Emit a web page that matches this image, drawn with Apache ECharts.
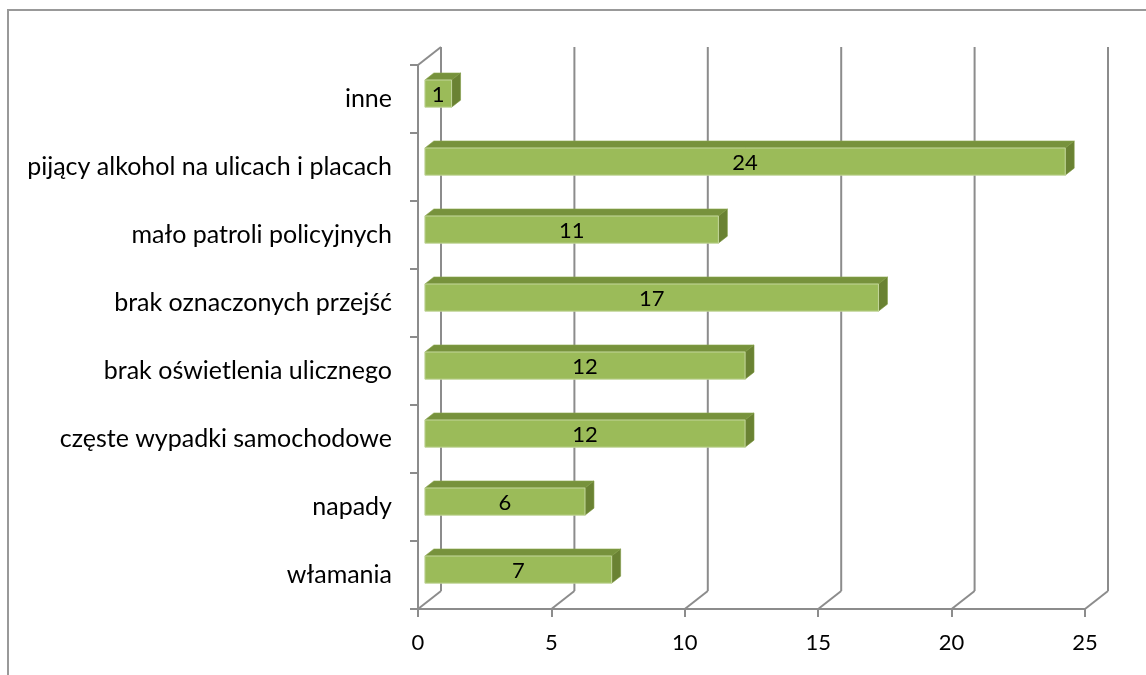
<!DOCTYPE html>
<html><head><meta charset="utf-8">
<script src="https://cdn.jsdelivr.net/npm/echarts/dist/echarts.min.js"></script>
<style>html,body{margin:0;padding:0;background:#fff}#c{width:1146px;height:675px}</style>
</head><body><div id="c"></div>
<script>
const categories = ['włamania', 'napady', 'częste wypadki samochodowe', 'brak oświetlenia ulicznego', 'brak oznaczonych przejść', 'mało patroli policyjnych', 'pijący alkohol na ulicach i placach', 'inne'];
const values = [7, 6, 12, 12, 17, 11, 24, 1];
const xTicks = [0, 5, 10, 15, 20, 25];

const DX = 23, DY = -18;          // depth offset of the pseudo-3D back wall
const F0 = 0.3, F1 = 0.69;        // bar depth position (fraction of depth)
const FONT = 'Lato';
const LINE = '#8c8c8c';

const chart = echarts.init(document.getElementById('c'), null, {renderer: 'canvas'});

function gridRender(params, api) {
  const cs = params.coordSys;
  const top = cs.y, bottom = cs.y + cs.height;
  const v = api.value(0);
  const x = api.coord([v, 0])[0];
  const st = {stroke: LINE, lineWidth: 2};
  const children = [
    {type: 'line', shape: {x1: x, y1: bottom, x2: x + DX, y2: bottom + DY}, style: st},
    {type: 'line', shape: {x1: x + DX, y1: bottom + DY, x2: x + DX, y2: top + DY}, style: st}
  ];
  if (v === 0) {
    children.push({type: 'line', shape: {x1: x, y1: top, x2: x + DX, y2: top + DY}, style: st});
  }
  return {type: 'group', children: children};
}

function barRender(params, api) {
  const v = api.value(0), i = api.value(1);
  const p0 = api.coord([0, i]);
  const p1 = api.coord([v, i]);
  const band = api.size([0, 1])[1];
  const h = band * 0.4;
  const xL = p0[0] + DX * F0, xR = p1[0] + DX * F0;
  const cy = p0[1] + DY * F0;
  const yT = cy - h / 2, yB = cy + h / 2;
  const ddx = DX * (F1 - F0), ddy = DY * (F1 - F0);
  return {
    type: 'group',
    children: [
      {type: 'polygon', shape: {points: [[xL, yT], [xR, yT], [xR + ddx, yT + ddy], [xL + ddx, yT + ddy]]},
        style: {fill: '#77923c', stroke: '#8aa54c', lineWidth: 0.6}},
      {type: 'polygon', shape: {points: [[xR, yT], [xR + ddx, yT + ddy], [xR + ddx, yB + ddy], [xR, yB]]},
        style: {fill: '#6a8233', stroke: '#7e9840', lineWidth: 0.6}},
      {type: 'rect', shape: {x: xL, y: yT, width: xR - xL, height: h},
        style: {fill: '#9bbb59', stroke: '#c3d69b', lineWidth: 1}},
      {type: 'text', x: (xL + xR) / 2, y: cy + 1,
        style: {text: String(v), fill: '#000', font: '22px ' + FONT, align: 'center', verticalAlign: 'middle'}}
    ]
  };
}

const option = {
  animation: false,
  backgroundColor: '#fff',
  graphic: [{type: 'rect', shape: {x: 8, y: 10, width: 1400, height: 900}, style: {fill: 'none', stroke: '#999', lineWidth: 2}, z: -10}],
  grid: {left: 418, right: 61, top: 65, bottom: 66},
  xAxis: {
    type: 'value', min: 0, max: 25, interval: 5,
    axisLine: {show: true, lineStyle: {color: LINE, width: 2}},
    axisTick: {show: true, length: 8, lineStyle: {color: LINE, width: 2}},
    splitLine: {show: false},
    axisLabel: {color: '#000', fontFamily: FONT, fontSize: 22, margin: 23}
  },
  yAxis: {
    type: 'category', data: categories,
    axisLine: {show: true, lineStyle: {color: LINE, width: 2}},
    axisTick: {show: true, length: 8, lineStyle: {color: LINE, width: 2}},
    splitLine: {show: false},
    axisLabel: {color: '#000', fontFamily: FONT, fontSize: 25, margin: 26}
  },
  series: [
    {type: 'custom', data: xTicks.map(v => [v]), renderItem: gridRender, z: 1, silent: true, clip: false, encode: {x: 0}},
    {type: 'custom', data: values.map((v, i) => [v, i]), renderItem: barRender, z: 3, silent: true, clip: false, encode: {x: 0, y: 1}}
  ]
};
chart.setOption(option);
</script></body></html>
